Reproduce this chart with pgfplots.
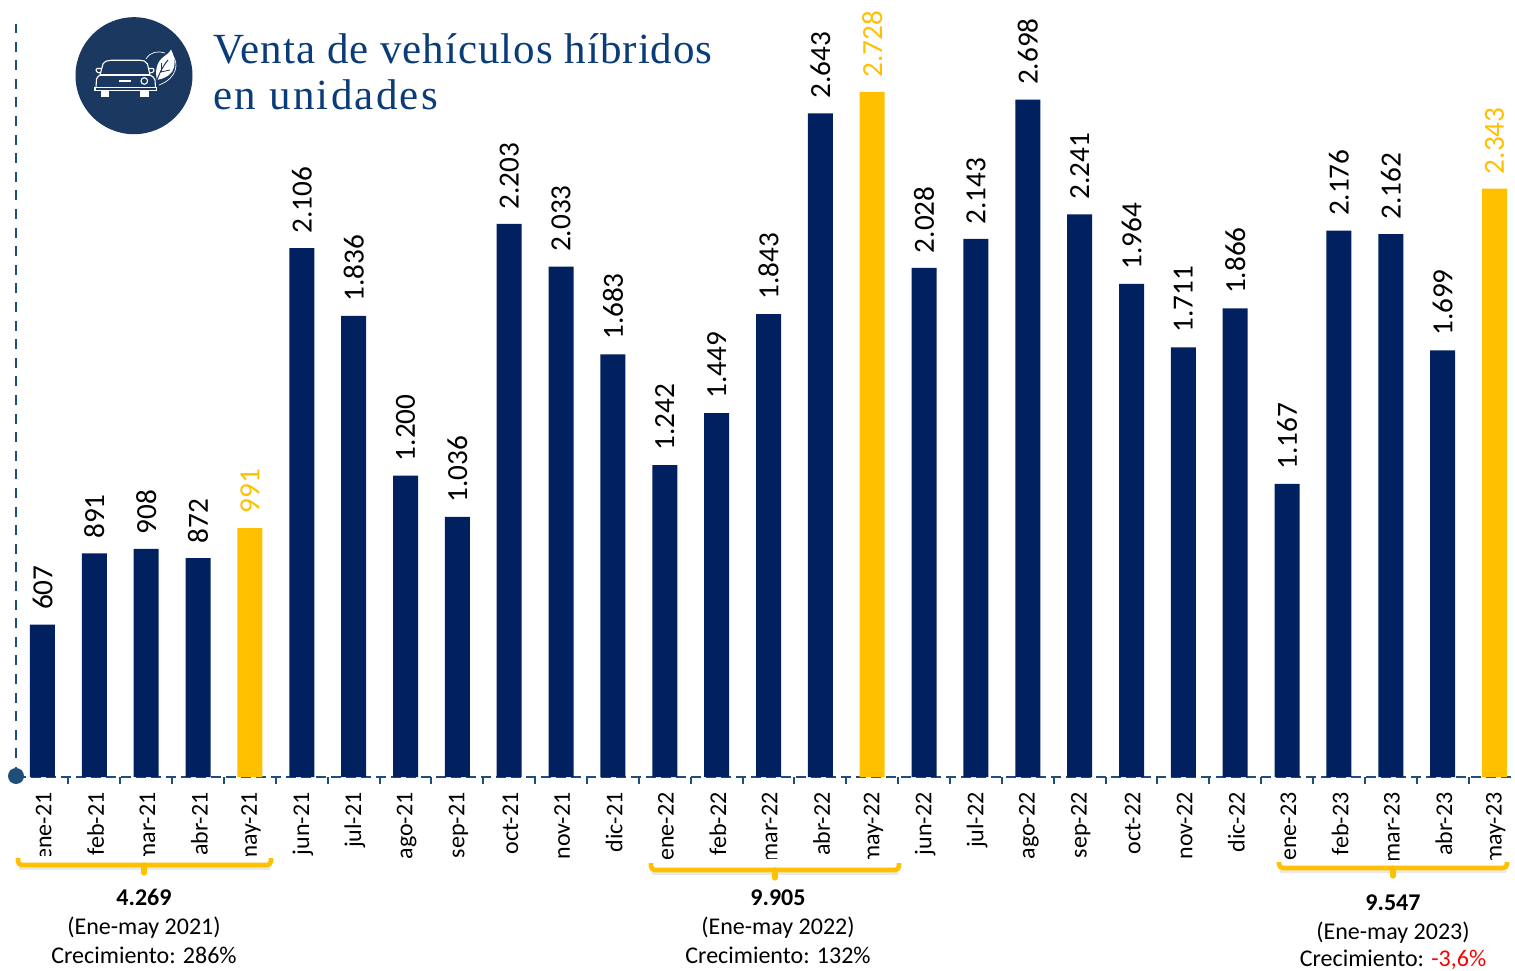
\documentclass[border=0pt]{standalone}
\usepackage{fontspec}
\usepackage{pgfplots}
\usepackage{pgfplotstable}
\pgfplotsset{compat=1.18}
\setmainfont{Carlito}
\newfontfamily\titlefont[LetterSpace=2.3]{Liberation Serif}
\newfontfamily\titlefontb[LetterSpace=5.3]{Liberation Serif}
\definecolor{navybar}{HTML}{002060}
\definecolor{goldbar}{HTML}{FFC000}
\definecolor{axisblue}{HTML}{1F4E79}
\definecolor{iconblue}{HTML}{1A3860}
\definecolor{titleblue}{HTML}{0B3C7A}
\pgfplotstableread{
x y
0 607
1 891
2 908
3 872
5 2106
6 1836
7 1200
8 1036
9 2203
10 2033
11 1683
12 1242
13 1449
14 1843
15 2643
17 2028
18 2143
19 2698
20 2241
21 1964
22 1711
23 1866
24 1167
25 2176
26 2162
27 1699
}\navydata
\pgfplotstableread{
x y
4 991
16 2728
28 2343
}\golddata
\begin{document}
\begin{tikzpicture}
\useasboundingbox (0,0) rectangle (757.5pt,485pt);
\begin{axis}[
  at={(8pt,0pt)}, anchor=south west,
  scale only axis, width=749.5pt, height=485pt,
  xmin=-0.511, xmax=28.395, ymin=-768.6, ymax=3094.4,
  clip=false,
  axis x line=middle, axis y line=none,
  axis line style={-},
  x axis line style={draw=axisblue, line width=1pt, dash pattern=on 5pt off 2.5pt},
  xtick={0,...,28},
  xticklabels={ene-21,feb-21,mar-21,abr-21,may-21,jun-21,jul-21,ago-21,sep-21,oct-21,nov-21,dic-21,ene-22,feb-22,mar-22,abr-22,may-22,jun-22,jul-22,ago-22,sep-22,oct-22,nov-22,dic-22,ene-23,feb-23,mar-23,abr-23,may-23},
  minor xtick={0.5,1.5,...,27.5},
  tick align=outside,
  major tick length=0pt, minor tick length=3.5pt,
  minor tick style={draw=axisblue, line width=1pt},
  xticklabel style={rotate=90, anchor=east, inner sep=0pt, xshift=-7.5pt, yshift=-0.6pt, font=\fontsize{12}{13}\selectfont, text=black},
  /pgf/number format/assume math mode=true,
  /pgf/number format/1000 sep={.},
  ybar, bar width=12.5pt, bar shift=0pt,
  nodes near coords,
  nodes near coords style={rotate=90, anchor=west, inner xsep=7.1pt, inner ysep=0pt, font=\fontsize{14.6}{15}\selectfont},
]
\addplot[fill=navybar, draw=none, nodes near coords style={text=black}] table[x=x,y=y] {\navydata};
\addplot[fill=goldbar, draw=none, nodes near coords style={text=goldbar}] table[x=x,y=y] {\golddata};
\end{axis}
\begin{scope}[x=0.5pt,y=-0.5pt,yshift=485pt]
  % y axis and dot
  \draw[axisblue, line width=1.15pt, dash pattern=on 5pt off 4.3pt] (16,777) -- (16,24);
  \fill[axisblue] (16,776) circle (8);
  % masks and brackets
  \fill[white] (17,856) rectangle (272,866);
  \fill[white] (651,859) rectangle (900,868);
  \fill[white] (1279,860) rectangle (1507,868);
  \foreach \l/\r/\t/\b/\m/\k in {18/271/858/865/144/875, 651/899/863/870/775/880, 1279/1507/862/868/1393/878}{
    \draw[black!45, opacity=.2, line width=1.6pt, line cap=round] (\l+2,\b+3) -- (\r-2,\b+3);
    \draw[goldbar, line width=2.3pt, rounded corners=2pt] (\l,\t) -- (\l,\b) -- (\r,\b) -- (\r,\t);
    \draw[goldbar, line width=2.6pt, line cap=round] (\m,\b) -- (\m,\k-2);
  }
  % annotations
  \tikzset{ann/.style={inner sep=0pt, anchor=base, font=\fontsize{12}{13}\selectfont}}
  \node[ann, font=\fontsize{12}{13}\selectfont\bfseries] at (144,905) {4.269};
  \node[ann] at (144,934) {(Ene-may 2021)};
  \node[ann] at (144,963) {Crecimiento: 286\%};
  \node[ann, font=\fontsize{12}{13}\selectfont\bfseries] at (778,905) {9.905};
  \node[ann] at (778,934) {(Ene-may 2022)};
  \node[ann] at (778,963) {Crecimiento: 132\%};
  \node[ann, font=\fontsize{12}{13}\selectfont\bfseries] at (1393,910) {9.547};
  \node[ann] at (1393,939) {(Ene-may 2023)};
  \node[ann] at (1393,966) {Crecimiento: \textcolor{red}{-3,6\%}};
  % title
  \node[inner sep=0pt, anchor=base west, text=titleblue, font=\fontsize{21.5}{22}\selectfont\titlefont] at (213,64) {Venta de vehículos híbridos};
  \node[inner sep=0pt, anchor=base west, text=titleblue, font=\fontsize{21.5}{22}\selectfont\titlefontb] at (213,110) {en unidades};
  % icon
  \fill[iconblue] (134,75.7) circle (58.5);
  \begin{scope}[white, line width=0.55pt]
    \draw (95,90.5) rectangle (156.5,87.5);
    \draw (96,87.5) -- (96.5,79) .. controls (97,77) and (99,76) .. (100,75) -- (103,64) .. controls (105,61) and (108,60.3) .. (111,60.3) -- (140,60.3) .. controls (143,60.3) and (146,61) .. (147.5,64) -- (150,75) .. controls (152,76) and (155,78) .. (155,80) -- (155.5,87.5);
    \draw (100,75) -- (150,75);
    \draw (144.3,81) circle (3.3);
    \fill (119,80) rectangle (131,81.7);
    \fill (100.7,90.5) rectangle (109.2,97);
    \fill (140,90.5) rectangle (148.7,97);
    \draw (101,73) .. controls (96,73) and (95,70) .. (97,68.5) -- (101.5,68.5);
    \draw (149.5,73) .. controls (154,73) and (155,70) .. (153,68.5) -- (149,68.5);
    \draw[line width=0.35pt] (146,59) .. controls (150,52) and (158,50.5) .. (165,53);
    \draw[line width=0.35pt] (172,55) .. controls (179,62) and (178,78) .. (159,85);
    \fill (171,49.5) .. controls (175,57) and (176,66) .. (172,72) .. controls (168,77) and (162,79) .. (157,80) .. controls (155,72) and (156,62) .. (164,56.5) .. controls (167,54.5) and (169,53) .. (171,49.5) -- cycle;
    \draw[iconblue, line width=0.5pt] (157,80) .. controls (160,72) and (163,66) .. (168,60);
    \draw[iconblue, line width=0.4pt] (161,72) -- (161,63);
    \draw[iconblue, line width=0.4pt] (161,72) -- (170,70);
  \end{scope}
\end{scope}
\end{tikzpicture}
\end{document}
